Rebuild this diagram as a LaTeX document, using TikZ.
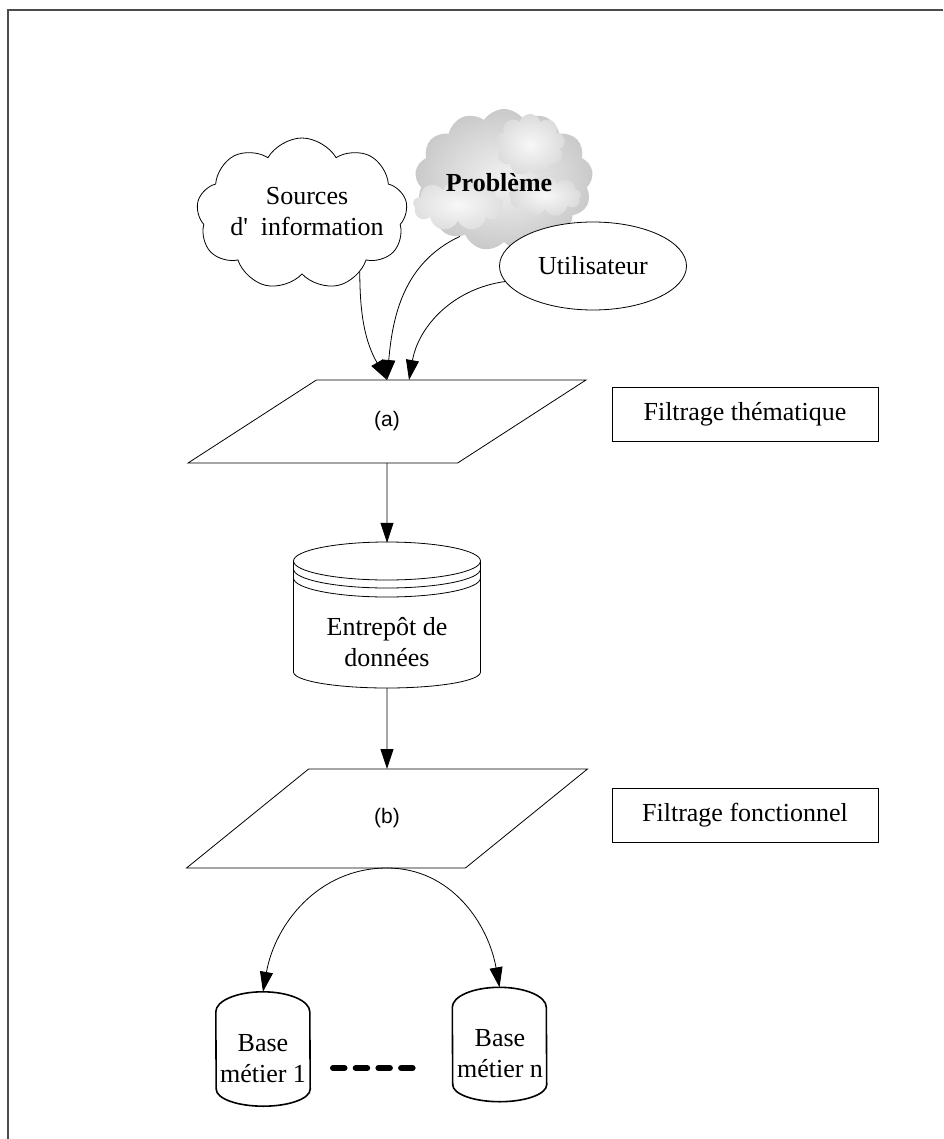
\documentclass[tikz,border=0pt]{standalone}
\usepackage{fontspec}
\setmainfont{Liberation Serif}
\newfontfamily\arialfont{Liberation Sans}
\usetikzlibrary{shapes.geometric,shapes.symbols,arrows.meta}
\newcommand{\txtsize}{\fontsize{26}{31}\selectfont}

\begin{document}
\begin{tikzpicture}[x=1pt,y=1pt,
   arr/.style={-{Triangle[length=20pt,width=13pt]}, line width=0.8pt},
   txt/.style={font=\txtsize, align=center, inner sep=0pt},
   filtre/.style={draw, line width=0.8pt, trapezium, trapezium stretches=true,
      inner sep=0pt, outer sep=0pt, font=\arialfont\fontsize{21}{25}\selectfont},
   etape/.style={draw, line width=0.8pt, minimum width=266, minimum height=54,
      inner sep=0pt, font=\txtsize},
   nuage/.style={cloud, cloud ignores aspect, inner sep=0pt, outer sep=0pt},
   basemetier/.style={minimum width=94, minimum height=114, inner sep=0pt}]
   \useasboundingbox (0,0) rectangle (943,-1139);
   \draw[line width=1.6pt, black!70] (943,-10) -- (8,-10) -- (8,-1139);

   \node[nuage, cloud puffs=13, cloud puff arc=115, minimum width=178, minimum height=142,
      inner color=gray!10, outer color=gray!42] (prob) at (504,-180) {};
   \node[nuage, cloud puffs=9, minimum width=70, minimum height=62,
      inner color=gray!6, outer color=gray!28] (prob2) at (530,-145) {};
   \node[nuage, cloud puffs=9, minimum width=72, minimum height=42,
      inner color=gray!6, outer color=gray!28] (prob3) at (545,-196) {};
   \node[nuage, cloud puffs=9, minimum width=90, minimum height=52,
      inner color=gray!6, outer color=gray!25] (prob4) at (458,-205) {};
   \node[txt, font=\txtsize\bfseries] (probtxt) at (499,-183) {Problème};

   \node[nuage, draw, fill=white, line width=0.8pt, cloud puffs=9, cloud puff arc=120,
      minimum width=211, minimum height=152] (src) at (302,-214) {};
   \node[txt] (srctxt) at (307,-212) {Sources\\d\textquotesingle~ information};
   \node[ellipse, draw, fill=white, line width=0.8pt, minimum width=187, minimum height=88,
      inner sep=0pt, font=\txtsize] (usr) at (593,-266) {Utilisateur};

   \node[filtre, trapezium left angle=40, trapezium right angle=140,
      minimum width=399, minimum height=83] (pa) at (387,-421.5) {(a)};
   \node[etape] (fa) at (745,-414) {Filtrage thématique};

   \node[minimum width=187, minimum height=145, inner sep=0pt] (dw) at (387,-615.5) {};
   \draw[line width=0.8pt, fill=white] (293.5,-561) -- (293.5,-672) arc(180:360:93.5 and 16) -- (480.5,-561);
   \draw[line width=0.8pt] (387,-561) ellipse (93.5 and 19);
   \foreach \d in {8,17}
      \draw[line width=0.8pt] (293.5,-561-\d) arc(180:360:93.5 and 19);
   \node[txt] (dwtxt) at (387,-642) {Entrepôt de\\données};

   \node[filtre, trapezium left angle=44.4, trapezium right angle=135.6,
      minimum width=402, minimum height=99] (pb) at (387,-818.5) {(b)};
   \node[etape] (ff) at (745,-815) {Filtrage fonctionnel};

   \node[basemetier] (b1) at (263,-1049) {};
   \node[basemetier] (bn) at (499.5,-1044.5) {};
   \foreach \n in {b1,bn}
      \draw[line width=1.6pt] ([yshift=-20pt]\n.north west) arc(180:0:47 and 20)
         -- ([yshift=17pt]\n.south east) arc(0:-180:47 and 17) -- cycle;
   \node[txt] (b1txt) at (263,-1059) {Base\\métier 1};
   \node[txt] (bntxt) at (500,-1054) {Base\\métier n};
   \draw[line width=6pt, line cap=round, dash pattern=on 11.5pt off 11.2pt] (333,-1068) -- (413,-1068);

   \draw[arr] (src.-45) to[out=-90,in=120] (pa.north);
   \draw[arr] (prob.-128) to[out=205,in=85] (pa.north);
   \draw[arr] (usr.190) to[out=188,in=80] ([xshift=22pt]pa.north);
   \draw[arr] (pa.south) -- (dw.north);
   \draw[arr] (dw.south) -- (pb.north);
   \draw[arr] (pb.south) to[out=180,in=80] (b1.north);
   \draw[arr] (pb.south) to[out=0,in=100] (bn.north);
\end{tikzpicture}
\end{document}
